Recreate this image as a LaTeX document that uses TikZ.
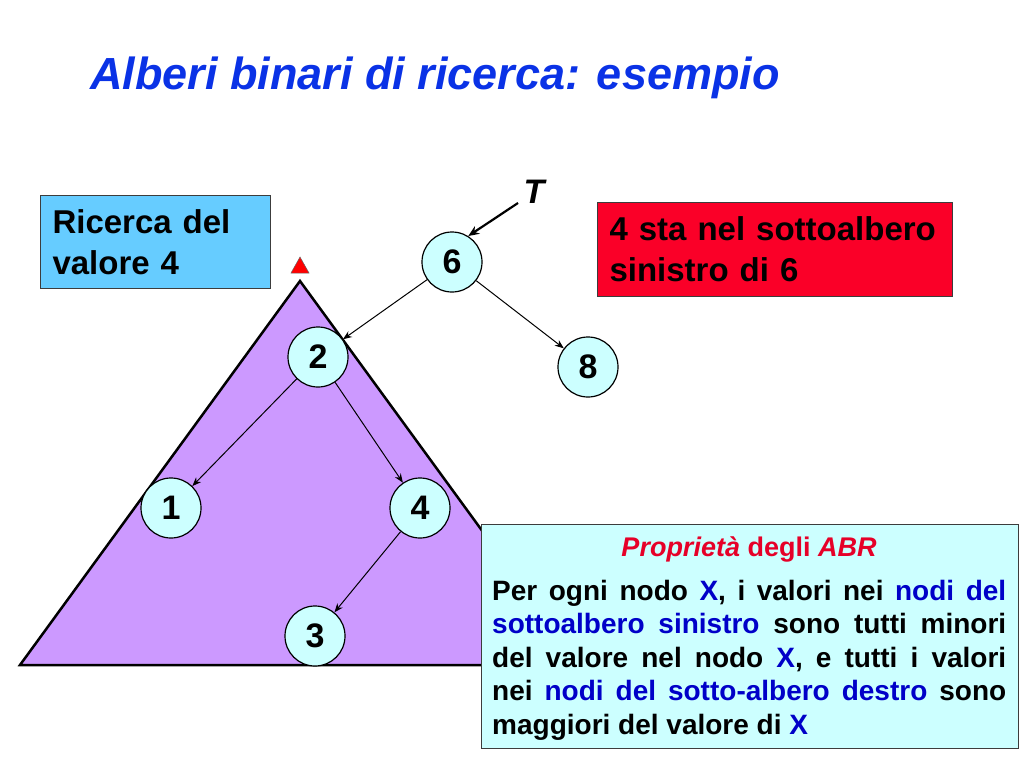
\documentclass[tikz,border=0pt]{standalone}
\usepackage{fontspec}
\setmainfont{Liberation Sans}
\usetikzlibrary{arrows.meta}
\definecolor{titleblue}{RGB}{10,50,230}
\definecolor{boxblue}{RGB}{102,204,255}
\definecolor{boxred}{RGB}{250,0,40}
\definecolor{treepurple}{RGB}{204,153,255}
\definecolor{nodecyan}{RGB}{204,255,255}
\definecolor{textblue}{RGB}{0,0,200}
\definecolor{textred}{RGB}{230,0,40}
\definecolor{edgegray}{RGB}{60,60,60}
\begin{document}
\begin{tikzpicture}[x=1pt,y=-1pt,
  treenode/.style={circle,draw=black,line width=1.2pt,fill=nodecyan,minimum size=60pt,inner sep=0pt,
    font=\fontsize{34}{40}\selectfont\bfseries},
  edge/.style={line width=1pt,-{Stealth[length=9pt,width=7pt]}},
  textbox/.style={draw=edgegray,line width=1pt,anchor=north west,align=left,inner ysep=0pt,
    font=\fontsize{33}{41}\selectfont\bfseries}]
\useasboundingbox (0,0) rectangle (1024,768);
% title
\node[anchor=base west,inner sep=0pt,text=titleblue,font=\fontsize{45}{50}\selectfont\bfseries\itshape] (title) at (90,89) {Alberi binari di ricerca: esempio};
% big triangle
\draw[line width=2.5pt,fill=treepurple,line join=miter] (300,281) -- (20,665) -- (580,665) -- cycle;
% small red marker
\draw[fill=red,draw=black!60,line width=0.5pt] (291,273) -- (309,273) -- (300,257) -- cycle;
% boxes
\node[textbox,fill=boxblue,minimum width=230pt,minimum height=93pt,text width=206pt,inner xsep=12pt] (ricerca) at (40,195) {Ricerca del\\valore 4};
\node[textbox,fill=boxred,minimum width=355pt,minimum height=94pt,text width=331pt,inner xsep=12pt] (info) at (597,202) {4 sta nel sottoalbero\\sinistro di 6};
% tree nodes
\node[treenode] (n6) at (452,262) {6};
\node[treenode] (n2) at (318,357) {2};
\node[treenode] (n8) at (588,367) {8};
\node[treenode] (n1) at (171,508) {1};
\node[treenode] (n4) at (420,508) {4};
\node[treenode] (n3) at (315,636) {3};
% T pointer
\node[inner sep=0pt,font=\fontsize{34}{40}\selectfont\bfseries\itshape] (T) at (534,192) {T};
\coordinate (tstart) at (518,203);
\draw[line width=2.2pt,-{Stealth[length=11pt,width=9pt]}] (tstart) -- (n6.58);
% edges
\draw[edge] (n6) -- (n2);
\draw[edge] (n6) -- (n8);
\draw[edge] (n2) -- (n1);
\draw[edge] (n2) -- (n4);
\draw[edge] (n4) -- (n3);
% property box
\node[draw=edgegray,line width=1.2pt,fill=nodecyan,anchor=north west,minimum width=537pt,minimum height=224pt,inner sep=0pt] (abr) at (481,524) {};
\node[inner sep=0pt,text=textred,font=\fontsize{27}{32}\selectfont\bfseries] (abrtitle) at (749,549) {\itshape Propriet\`a\upshape{} degli \itshape ABR};
\node[anchor=north west,inner sep=0pt,text width=514pt,align=justify,font=\fontsize{28}{33.5}\selectfont\bfseries] (abrbody) at (492,580)
{Per ogni nodo \textcolor{textblue}{X}, i valori nei \textcolor{textblue}{nodi del}\linebreak \textcolor{textblue}{sottoalbero sinistro} sono tutti minori\linebreak del valore nel nodo \textcolor{textblue}{X}, e tutti i valori\linebreak nei \textcolor{textblue}{nodi del sotto-albero destro} sono\linebreak maggiori del valore di \textcolor{textblue}{X}};
\end{tikzpicture}
\end{document}
